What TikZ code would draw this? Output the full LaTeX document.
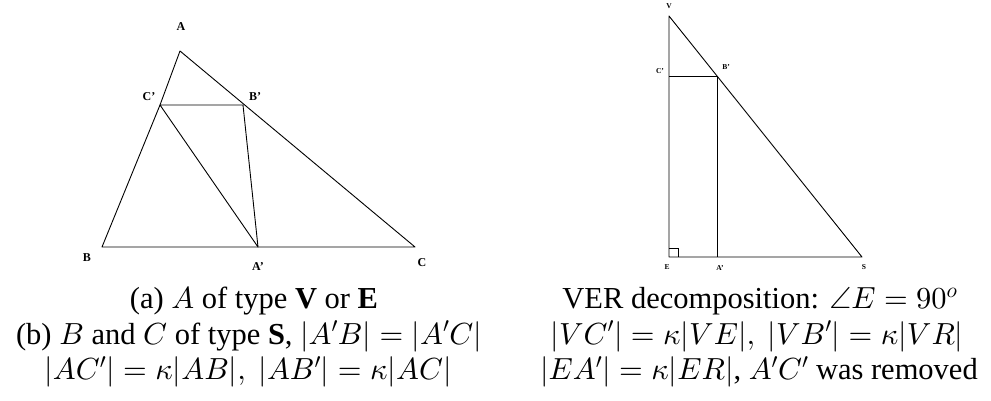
\documentclass[tikz,border=0pt]{standalone}
\usepackage{amsmath,amssymb}
\usepackage{fontspec}
\setmainfont{Liberation Serif}
\DeclareFontShape{OML}{cmm}{m}{it}{<->cmmi10}{}
\DeclareFontShape{OMS}{cmsy}{m}{n}{<->cmsy10}{}
\DeclareFontShape{OMX}{cmex}{m}{n}{<->cmex10}{}
\DeclareFontShape{OT1}{cmr}{m}{n}{<->cmr10}{}
\usepackage{tikz}
\usetikzlibrary{positioning,calc}

\tikzset{
    pt/.style={font=\fontsize{12}{14}\selectfont\bfseries, inner sep=0pt},
    ptsmall/.style={font=\fontsize{7.5}{9}\selectfont\bfseries, inner sep=0pt},
    caption/.style={font=\fontsize{30.5}{35}\selectfont, inner sep=0pt, anchor=base},
    edge/.style={line width=0.9pt, line join=round}
}

\begin{document}
\begin{tikzpicture}[x=1pt, y=-1pt]
    \useasboundingbox (0,0) rectangle (991,401);

    % Triangle ABC
    \coordinate (A) at (180,51);
    \coordinate (B) at (102,247);
    \coordinate (C) at (415,247);
    \coordinate (Ap) at (258,247);
    \coordinate (Bp) at (243,105);
    \coordinate (Cp) at (160,105);
    \draw[edge] (A) -- (Cp) -- (B) -- (Ap) -- (C) -- cycle;
    \draw[edge] (Cp) -- (Bp) -- (Ap) -- cycle;

    \node[pt] (lA) at (181,27) {A};
    \node[pt] (lCp) at (149,97) {C’};
    \node[pt] (lBp) at (255,97) {B’};
    \node[pt] (lB) at (87,258) {B};
    \node[pt] (lAp) at (258,267) {A’};
    \node[pt] (lC) at (422,263) {C};

    % Triangle VES
    \coordinate (V) at (669,16);
    \coordinate (E) at (669,257);
    \coordinate (S) at (862,257);
    \coordinate (Cq) at (669,76);
    \coordinate (Bq) at (717,76);
    \coordinate (Aq) at (717,257);
    \draw[edge] (V) -- (E) -- (S) -- cycle;
    \draw[edge] (Cq) -- (Bq) -- (Aq);
    \draw[line width=0.6pt] ($(E)+(0,-9)$) -- ++(9,0) -- ++(0,9);

    \node[ptsmall] (lV) at (669,6) {V};
    \node[ptsmall] (lCq) at (660,71) {C’};
    \node[ptsmall] (lBq) at (726,67) {B’};
    \node[ptsmall] (lE) at (667,267) {E};
    \node[ptsmall] (lAq) at (720,268) {A’};
    \node[ptsmall] (lS) at (864,267) {S};

    % Captions
    \node[caption] (capL1) at (254,308.5) {(a) $A$ of type \textbf{V} or \textbf{E}};
    \node[caption] (capL2) at (249,344) {(b) $B$ and $C$ of type \textbf{S}, $|A'B|=|A'C|$};
    \node[caption] (capL3) at (248,379.5) {$|AC'|=\kappa|AB|,\ |AB'|=\kappa|AC|$};
    \node[caption] (capR1) at (760,308.5) {VER decomposition: $\angle E=90^o$};
    \node[caption] (capR2) at (757,344) {$|VC'|=\kappa|VE|,\ |VB'|=\kappa|VR|$};
    \node[caption] (capR3) at (759,379.5) {$|EA'|=\kappa|ER|$, $A'C'$ was removed};
\end{tikzpicture}
\end{document}
